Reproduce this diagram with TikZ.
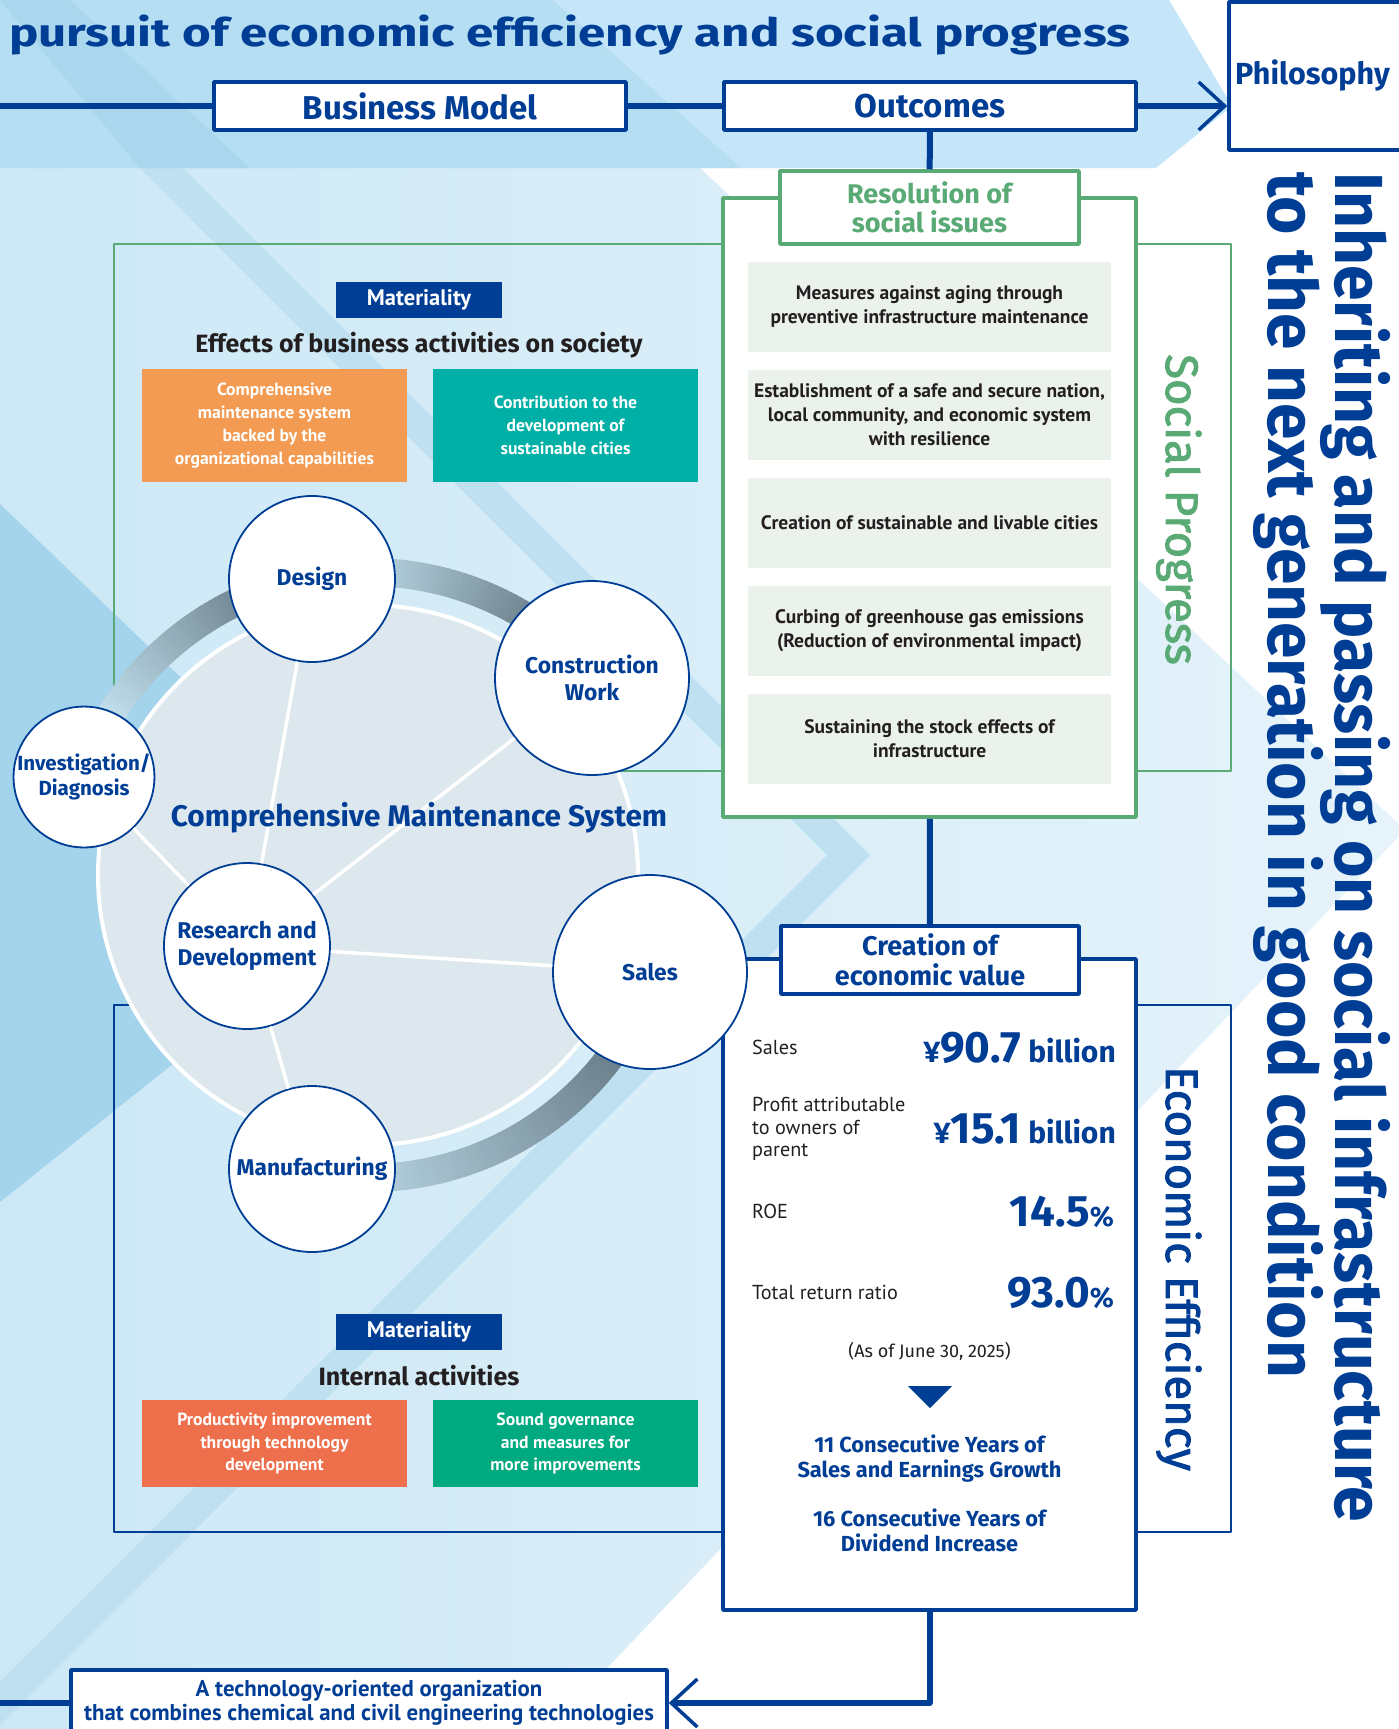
\documentclass[tikz,border=0pt]{standalone}
\usepackage{fontspec}
\setmainfont{Fira Sans}
\newfontfamily\narrowfont{PT Sans}
\newfontfamily\medfont{Fira Sans}[FakeBold=2]
\usetikzlibrary{calc,arrows.meta}
\definecolor{navy}{RGB}{0,62,150}
\definecolor{sgreen}{RGB}{90,170,118}
\definecolor{itemfill}{RGB}{235,241,235}
\definecolor{darktext}{RGB}{35,31,32}
\definecolor{matorange}{RGB}{243,155,82}
\definecolor{matteal}{RGB}{0,176,166}
\definecolor{matred}{RGB}{238,111,75}
\definecolor{matgreen}{RGB}{0,170,128}
\definecolor{band}{RGB}{196,230,248}
\definecolor{bandB}{RGB}{182,222,243}
\definecolor{bandC}{RGB}{170,214,238}
\definecolor{bgA}{RGB}{204,232,246}
\definecolor{bgB}{RGB}{230,243,250}
\definecolor{bgdark}{RGB}{164,212,236}
\definecolor{bgstripe}{RGB}{190,224,241}
\definecolor{cfill}{RGB}{220,231,238}
\definecolor{ringdark}{RGB}{92,111,122}
\definecolor{ringlight}{RGB}{196,226,240}
\newcommand\setfs[2]{\fontsize{#1}{#2}\selectfont}

\begin{document}
\begin{tikzpicture}[x=1pt, y=-1pt, line join=round,
  conn/.style={draw=navy, line width=6},
  barb/.style={-{Straight Barb[length=26pt, width=48pt, line width=3.5pt]}},
  headbox/.style={draw=navy, line width=3.5, fill=white, text=navy, align=center, inner sep=0, font=\bfseries\setfs{33}{33}},
  issue/.style={fill=itemfill, minimum width=363, minimum height=90, align=center, inner sep=0, text=darktext, font=\narrowfont\bfseries\setfs{19.5}{24}},
  matbox/.style={fill=navy, text=white, minimum width=166, minimum height=36, inner sep=0, font=\narrowfont\bfseries\setfs{22.5}{22.5}},
  effbox/.style={minimum width=265, align=center, inner sep=0, text=white, font=\narrowfont\bfseries\setfs{17.6}{22.8}},
  stage/.style={circle, draw=navy, line width=1.8, fill=white, text=navy, align=center, inner sep=0, font=\bfseries\setfs{22.8}{26.5}},
  spoke/.style={draw=white, line width=3.5},
  ringseg/.style={line width=28},
  lab/.style={inner sep=0, text=darktext, font=\narrowfont\setfs{20.2}{22.5}},
  val/.style={inner sep=0, text=navy, font=\bfseries\setfs{30}{30}},
  vert/.style={rotate=-90, anchor=base west, inner sep=0}]
\useasboundingbox (0,0) rectangle (1399,1729);
\clip (0,0) rectangle (1399,1729);
% background
\fill[white] (0,0) rectangle (1399,1729);
\shade[left color=bgA, right color=bgB] (0,168) -- (700,168) -- (1405,830) -- (549,1729) -- (0,1729) -- cycle;
\fill[bgstripe] (140,168) -- (827,855) -- (-47,1729) -- (-4,1729) -- (870,855) -- (183,168) -- cycle;
\fill[bgdark] (0,504) -- (397,885) -- (0,1202) -- cycle;
\fill[band] (0,0) -- (1169,0) -- (1232,106) -- (1156,168) -- (0,168) -- cycle;
\fill[bandB] (0,0) -- (553,0) -- (741,168) -- (0,168) -- cycle;
\fill[bandC] (0,0) -- (70,0) -- (250,168) -- (140,168) -- cycle;

\node[anchor=base west, inner sep=0, text=navy] (title) at (9,46) {\resizebox{1121pt}{\height}{\bfseries\setfs{39}{39}pursuit of economic efficiency and social progress}};

% frames
\draw[sgreen, line width=2] (114,244) rectangle (1231,771);
\draw[navy, line width=2] (114,1005) rectangle (1231,1532);

% maintenance circle
\coordinate (hub) at (368,875);
\fill[cfill] (hub) circle[radius=270];
\draw[white, line width=4] (hub) circle[radius=270];
\foreach \i in {0,...,45}{
  \pgfmathtruncatemacro\p{100*\i/45}
  \pgfmathsetmacro\a{-150.4+\i} \pgfmathsetmacro\b{-148.6+\i}
  \draw[ringseg, ringdark!\p!ringlight] ($(hub)+(\a:303)$) -- ($(hub)+(\b:303)$);
}
\foreach \i in {0,...,45}{
  \pgfmathtruncatemacro\p{100*\i/45}
  \pgfmathsetmacro\a{-95.4+\i} \pgfmathsetmacro\b{-93.6+\i}
  \draw[ringseg, ringdark!\p!ringlight] ($(hub)+(\a:303)$) -- ($(hub)+(\b:303)$);
}
\foreach \i in {0,...,65}{
  \pgfmathtruncatemacro\p{100-85*\i/65}
  \pgfmathsetmacro\a{24.6+\i} \pgfmathsetmacro\b{26.4+\i}
  \draw[ringseg, ringdark!\p!ringlight] ($(hub)+(\a:303)$) -- ($(hub)+(\b:303)$);
}

% outcomes
\node[draw=sgreen, line width=3.5, fill=white, minimum width=413, minimum height=619, inner sep=0] (socbox) at (929.5,507.5) {};
\node[headbox, draw=sgreen, text=sgreen, minimum width=299, minimum height=73, font=\bfseries\setfs{27}{29}] (resol) at (929.5,207.5) {Resolution of\\social issues};
\foreach \y/\t [count=\k] in {306.5/{Measures against aging through\\preventive infrastructure maintenance},
  415/{Establishment of a safe and secure nation,\\local community, and economic system\\with resilience},
  522.5/{Creation of sustainable and livable cities},
  630.5/{Curbing of greenhouse gas emissions\\(Reduction of environmental impact)},
  738.5/{Sustaining the stock effects of\\infrastructure}}
  \node[issue] (issue\k) at (929.5,\y) {\t};

\node[draw=navy, line width=3.5, fill=white, minimum width=413, minimum height=651, inner sep=0] (econbox) at (929.5,1284.5) {};
\node[headbox, minimum width=298, minimum height=68, font=\bfseries\setfs{27}{29.5}] (creation) at (930,960) {Creation of\\economic value};

\node[headbox, minimum width=412, minimum height=48] (bizmodel) at (420,106) {Business Model};
\node[headbox, minimum width=412, minimum height=48] (outcomes) at (930,106) {Outcomes};
\node[headbox, minimum width=176, minimum height=148, font=\bfseries\setfs{30.5}{30.5}] (philo) at (1317,76) {Philosophy\hspace*{9pt}};
\node[headbox, minimum width=596, minimum height=66, font=\narrowfont\bfseries\setfs{22.8}{24}] (techorg) at (369,1703) {A technology-oriented organization\\that combines chemical and civil engineering technologies};

\coordinate (topstart) at (0,106);
\coordinate (botstart) at (0,1703);
\draw[conn] (topstart) -- (bizmodel);
\draw[conn] (bizmodel) -- (outcomes);
\draw[conn, barb] (outcomes) -- (outcomes -| philo.west);
\draw[conn] (outcomes) -- (resol);
\draw[conn] (socbox) -- (creation);
\draw[conn, barb] (econbox) |- (techorg);
\draw[conn] (botstart) -- (techorg);

% stages
\node[stage, minimum size=166] (design) at (312,579) {Design};
\node[stage, minimum size=194] (constr) at (592,678) {Construction\\Work};
\node[stage, minimum size=136, font=\bfseries\setfs{20.5}{25}] (invest) at (84,777) {Investigation/\\Diagnosis};
\node[stage, minimum size=166] (rnd) at (247,946) {Research and\\Development};
\node[stage, minimum size=194] (sales) at (650,972) {Sales};
\node[stage, minimum size=166] (manuf) at (312,1169) {Manufacturing};
\foreach \n in {design,constr,invest,sales,manuf}
  \draw[spoke] (rnd) -- (\n);
\node[text=navy, font=\bfseries\setfs{29.8}{29.8}] (cms) at (419,818) {Comprehensive Maintenance System};

% materiality
\node[matbox] (mat1) at (419,299.5) {Materiality};
\node[text=darktext, font=\bfseries\setfs{25}{25}] (effects) at (419,345) {Effects of business activities on society};
\node[effbox, fill=matorange, minimum height=113] (eff1) at (274.5,425.5) {Comprehensive\\maintenance system\\backed by the\\organizational capabilities};
\node[effbox, fill=matteal, minimum height=113] (eff2) at (565.5,425.5) {Contribution to the\\development of\\sustainable cities};
\node[matbox] (mat2) at (419,1331.5) {Materiality};
\node[text=darktext, font=\bfseries\setfs{25}{25}] (internal) at (419,1376) {Internal activities};
\node[effbox, fill=matred, minimum height=87] (int1) at (274.5,1443.5) {Productivity improvement\\through technology\\development};
\node[effbox, fill=matgreen, minimum height=87] (int2) at (565.5,1443.5) {Sound governance\\and measures for\\more improvements};

% figures
\node[lab, anchor=base west] (lsales) at (752,1054) {Sales};
\node[lab, anchor=west, align=left] (lprofit) at (752,1129) {Profit attributable\\to owners of\\parent};
\node[lab, anchor=base west] (lroe) at (752,1218) {ROE};
\node[lab, anchor=base west] (ltrr) at (752,1299) {Total return ratio};
\node[val, anchor=base east] (vsales) at (1116,1062) {¥{\setfs{44}{44}90.7} billion};
\node[val, anchor=base east] (vprofit) at (1116,1143) {¥{\setfs{44}{44}15.1} billion};
\node[val, anchor=base east, font=\bfseries\setfs{28}{28}] (vroe) at (1114,1226) {{\setfs{44}{44}14.5}\%};
\node[val, anchor=base east, font=\bfseries\setfs{28}{28}] (vtrr) at (1114,1307) {{\setfs{44}{44}93.0}\%};
\node[inner sep=0, anchor=base, text=darktext, font=\setfs{18}{18}] (asof) at (929.5,1357) {(As of June 30, 2025)};
\fill[navy] (908,1386) -- (952,1386) -- (930,1408) -- cycle;
\node[text=navy, align=center, inner sep=0, font=\bfseries\setfs{21.8}{25}] (growth) at (929.5,1459) {11 Consecutive Years of\\Sales and Earnings Growth};
\node[text=navy, align=center, inner sep=0, font=\bfseries\setfs{21.8}{25}] (dividend) at (929.5,1530) {16 Consecutive Years of\\Dividend Increase};

% vertical titles
\node[vert, text=sgreen, font=\medfont\setfs{45.5}{45.5}] (socprog) at (1166,354) {Social Progress};
\node[vert, text=navy, font=\medfont\setfs{45.5}{45.5}] (econeff) at (1166,1066) {Economic Efficiency};
\node[vert, text=navy] (inherit) at (1335,172) {\resizebox{1350pt}{\height}{\bfseries\setfs{68}{68}Inheriting and passing on social infrastructure}};
\node[vert, text=navy] (nextgen) at (1268,172) {\resizebox{1206pt}{\height}{\bfseries\setfs{68}{68}to the next generation in good condition}};
\end{tikzpicture}
\end{document}
